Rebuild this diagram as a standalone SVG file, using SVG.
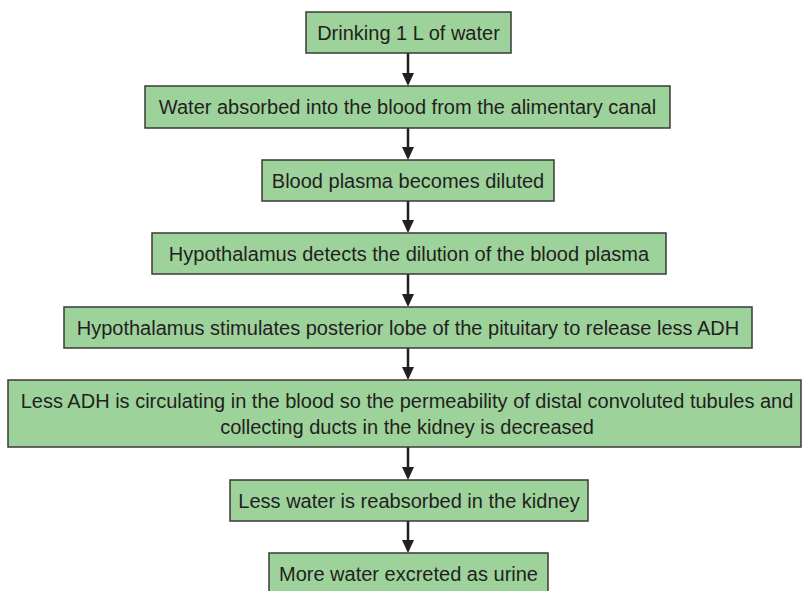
<svg xmlns="http://www.w3.org/2000/svg" width="802" height="591" viewBox="0 0 802 591">
<defs>
<style>
.box{fill:#9dd29b;stroke:#3a3a3a;stroke-width:1.5}
.t{font-family:"Liberation Sans",Arial,sans-serif;font-size:20px;fill:#231f20;text-anchor:middle}
.c{stroke:#231f20;stroke-width:2.5;fill:none}
</style>
</defs>
<rect width="802" height="591" fill="#fff"/>
<g id="connectors">
<path class="c" d="M408,53 V74"/><path d="M402,73 L414,73 L408,86 Z" fill="#231f20"/>
<path class="c" d="M408,128 V148"/><path d="M402,147 L414,147 L408,160 Z" fill="#231f20"/>
<path class="c" d="M408,201 V221"/><path d="M402,220 L414,220 L408,233 Z" fill="#231f20"/>
<path class="c" d="M408,274 V295"/><path d="M402,294 L414,294 L408,307 Z" fill="#231f20"/>
<path class="c" d="M408,348 V368"/><path d="M402,367 L414,367 L408,380 Z" fill="#231f20"/>
<path class="c" d="M408,447 V468"/><path d="M402,467 L414,467 L408,480 Z" fill="#231f20"/>
<path class="c" d="M408,521 V541"/><path d="M402,540 L414,540 L408,553 Z" fill="#231f20"/>
</g>
<g id="n1"><rect class="box" x="306" y="12" width="205" height="41"/><text class="t" x="408.5" y="40">Drinking 1 L of water</text></g>
<g id="n2"><rect class="box" x="145" y="86" width="525" height="42"/><text class="t" x="407.5" y="114">Water absorbed into the blood from the alimentary canal</text></g>
<g id="n3"><rect class="box" x="262" y="160" width="292" height="41"/><text class="t" x="408" y="188">Blood plasma becomes diluted</text></g>
<g id="n4"><rect class="box" x="152" y="233" width="514" height="41"/><text class="t" x="409" y="261">Hypothalamus detects the dilution of the blood plasma</text></g>
<g id="n5"><rect class="box" x="64" y="307" width="688" height="41"/><text class="t" x="408" y="335">Hypothalamus stimulates posterior lobe of the pituitary to release less ADH</text></g>
<g id="n6"><rect class="box" x="8" y="380" width="793" height="67"/><text class="t" x="407" y="408">Less ADH is circulating in the blood so the permeability of distal convoluted tubules and</text><text class="t" x="407" y="434">collecting ducts in the kidney is decreased</text></g>
<g id="n7"><rect class="box" x="230" y="480" width="358" height="41"/><text class="t" x="409" y="508">Less water is reabsorbed in the kidney</text></g>
<g id="n8"><rect class="box" x="269" y="553" width="279" height="45"/><text class="t" x="408.5" y="581">More water excreted as urine</text></g>
</svg>
